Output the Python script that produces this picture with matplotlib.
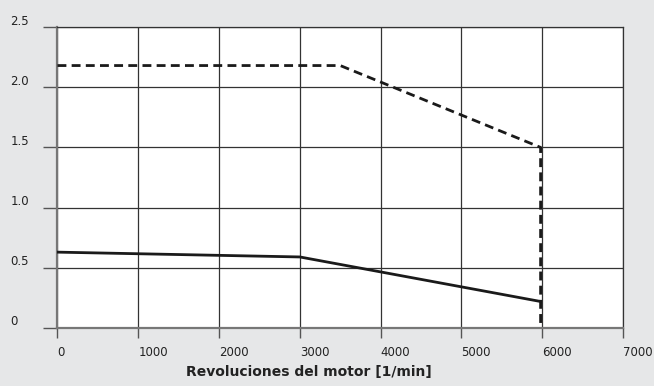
import matplotlib
matplotlib.use("Agg")
import matplotlib.pyplot as plt
from matplotlib.transforms import blended_transform_factory

# Data
rpm_dashed = [0, 3500, 5980, 5980]
val_dashed = [2.18, 2.18, 1.5, 0.0]
rpm_solid = [0, 3000, 5980]
val_solid = [0.63, 0.59, 0.22]

x_ticks = [0, 1000, 2000, 3000, 4000, 5000, 6000, 7000]
y_ticks = [0, 0.5, 1.0, 1.5, 2.0, 2.5]
y_labels = ["0", "0.5", "1.0", "1.5", "2.0", "2.5"]

bg = "#e6e7e8"
fig = plt.figure(figsize=(6.54, 3.86), dpi=100, facecolor=bg)
ax = fig.add_axes([0.0879, 0.1503, 0.8647, 0.7797])
ax.set_facecolor("white")

ax.plot(rpm_dashed, val_dashed, color="#1a1a1a", lw=2.0, dashes=(3.2, 1.9), zorder=3)
ax.plot(rpm_solid, val_solid, color="#1a1a1a", lw=2.0, zorder=3)

ax.set_xlim(0, 7000)
ax.set_ylim(0, 2.5)
ax.set_xticks(x_ticks)
ax.set_xticklabels([str(t) for t in x_ticks], ha="left", fontsize=8.5, color="#222")
ax.set_yticks(y_ticks)
ax.set_yticklabels([])
ax.tick_params(axis="x", length=7, width=1, color="#555", pad=6)
ax.tick_params(axis="y", length=10, width=1, color="#555")
ax.grid(True, color="#333", lw=0.9)
ax.set_axisbelow(True)

for side in ["top", "right"]:
    ax.spines[side].set_color("#333")
    ax.spines[side].set_linewidth(0.9)
for side in ["left", "bottom"]:
    ax.spines[side].set_color("#777")
    ax.spines[side].set_linewidth(1.6)

# y labels sit left-aligned near the figure edge, slightly above their grid line
trans = blended_transform_factory(fig.transFigure, ax.transData)
for v, lab in zip(y_ticks, y_labels):
    ax.text(0.016, v + 0.05, lab, transform=trans, ha="left", va="center",
            fontsize=8.5, color="#222")

fig.text(0.472, 0.036, "Revoluciones del motor [1/min]", fontsize=10,
         fontweight="bold", color="#222", ha="center", va="center")

fig.savefig("out.png", dpi=100, facecolor=bg)
